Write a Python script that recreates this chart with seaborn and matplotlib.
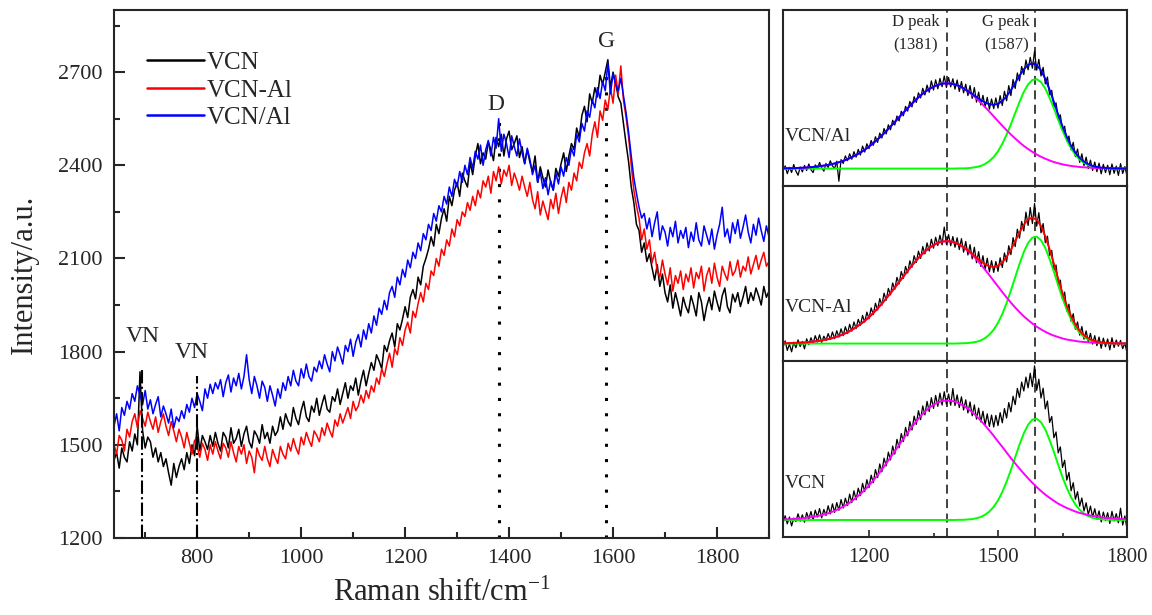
import numpy as np
import matplotlib
matplotlib.use('Agg')
import matplotlib.pyplot as plt
import seaborn as sns
from matplotlib.ticker import MultipleLocator, NullLocator

# ---------------- main panel: raw Raman spectra, 640-1900 cm-1, every 5 cm-1
vcn = [
    1450,1475,1425,1490,1460,1445,1510,1480,1535,1500,1735,1545,1490,1525,1510,1460,1490,1445,1475,1430,
    1455,1410,1370,1440,1395,1430,1455,1420,1475,1440,1500,1465,1560,1480,1530,1510,1485,1530,1495,1540,
    1505,1480,1540,1525,1490,1555,1505,1520,1550,1495,1535,1560,1510,1490,1545,1530,1505,1565,1520,1540,
    1505,1560,1530,1545,1590,1550,1600,1575,1560,1620,1585,1565,1610,1640,1590,1575,1625,1605,1650,1595,
    1630,1660,1615,1605,1655,1640,1680,1630,1665,1700,1650,1690,1675,1715,1660,1705,1740,1690,1730,1765,
    1740,1790,1770,1745,1820,1800,1835,1860,1815,1890,1870,1905,1945,1910,1975,2000,1970,2040,2015,2075,
    2100,2130,2170,2140,2210,2180,2230,2260,2220,2300,2270,2320,2345,2300,2375,2350,2330,2410,2370,2430,
    2470,2405,2440,2420,2475,2450,2415,2490,2460,2500,2430,2485,2510,2450,2470,2495,2425,2460,2405,2450,
    2410,2380,2430,2345,2395,2360,2330,2385,2345,2320,2390,2365,2405,2440,2380,2430,2470,2450,2520,2490,
    2560,2590,2540,2630,2600,2650,2620,2690,2660,2700,2740,2650,2700,2665,2620,2600,2535,2470,2410,2330,
    2280,2210,2190,2120,2150,2090,2115,2070,2030,2080,2010,2050,1990,1960,2015,1940,1990,1955,1915,1975,
    1945,1925,1980,1950,1915,1990,1960,1900,1945,1975,1935,1995,1960,1930,1980,2005,1945,1925,1985,1960,
    1990,1945,1975,2010,1955,1990,1965,2005,1980,1950,2010,1975,1995,
]
vcn_dash_al = [
    1500,1470,1530,1515,1480,1550,1525,1575,1600,1555,1610,1585,1560,1605,1575,1550,1590,1540,1575,1600,
    1560,1530,1575,1545,1510,1550,1525,1490,1540,1505,1470,1515,1495,1460,1505,1485,1450,1500,1470,1510,
    1480,1455,1505,1490,1460,1510,1475,1445,1495,1470,1500,1440,1480,1460,1410,1490,1465,1450,1495,1455,
    1430,1485,1460,1440,1495,1470,1455,1505,1480,1520,1490,1470,1525,1500,1540,1515,1495,1545,1530,1510,
    1555,1530,1570,1545,1525,1580,1560,1600,1570,1595,1620,1585,1640,1610,1625,1660,1635,1675,1650,1690,
    1670,1715,1695,1745,1720,1760,1795,1750,1810,1790,1845,1820,1870,1895,1860,1930,1910,1955,1990,1960,
    2020,2000,2060,2045,2100,2075,2130,2110,2160,2140,2195,2170,2225,2205,2250,2235,2280,2255,2300,2270,
    2320,2295,2350,2330,2365,2310,2380,2350,2395,2340,2385,2365,2400,2335,2375,2350,2320,2365,2330,2300,
    2345,2290,2260,2315,2240,2285,2255,2225,2290,2260,2310,2245,2295,2330,2280,2345,2320,2375,2350,2410,
    2390,2440,2470,2430,2500,2540,2490,2575,2545,2610,2580,2650,2600,2690,2630,2720,2610,2555,2490,2400,
    2320,2270,2230,2160,2195,2130,2160,2085,2120,2060,2040,2095,2050,2015,2070,1995,2045,2020,2060,2000,
    2050,2025,2070,2005,2055,2035,2075,1995,2045,2070,2020,2085,2040,2010,2075,2050,2030,2090,2045,2060,
    2095,2040,2075,2060,2105,2050,2080,2110,2065,2095,2120,2075,2090,
]
vcn_slash_al = [
    1560,1600,1545,1620,1595,1640,1615,1665,1640,1690,1660,1630,1675,1615,1645,1600,1630,1655,1590,1625,
    1600,1570,1615,1555,1590,1575,1610,1585,1630,1605,1650,1620,1665,1640,1610,1680,1650,1695,1665,1700,
    1680,1710,1655,1700,1725,1670,1715,1690,1730,1680,1720,1790,1710,1665,1720,1690,1650,1705,1685,1640,
    1690,1660,1625,1680,1650,1700,1675,1720,1690,1740,1705,1690,1745,1715,1760,1720,1705,1750,1735,1770,
    1745,1790,1760,1735,1800,1770,1815,1790,1760,1820,1800,1840,1785,1830,1855,1815,1870,1840,1890,1860,
    1915,1885,1940,1920,1965,1935,1990,2010,1975,2040,2015,2065,2040,2095,2070,2120,2100,2150,2125,2180,
    2160,2210,2190,2245,2220,2270,2250,2300,2275,2330,2300,2355,2330,2380,2345,2400,2370,2425,2390,2445,
    2420,2465,2400,2450,2480,2430,2490,2455,2550,2445,2500,2470,2425,2495,2460,2430,2485,2440,2405,2455,
    2420,2370,2400,2345,2380,2325,2360,2305,2350,2320,2375,2340,2395,2365,2425,2400,2455,2430,2500,2475,
    2535,2510,2575,2555,2610,2585,2650,2615,2670,2640,2730,2630,2695,2660,2640,2680,2625,2570,2505,2430,
    2360,2310,2265,2230,2245,2195,2230,2170,2215,2250,2160,2205,2185,2140,2200,2170,2220,2150,2190,2165,
    2200,2135,2185,2155,2215,2160,2140,2205,2175,2145,2195,2130,2175,2210,2265,2170,2195,2150,2215,2180,
    2225,2165,2200,2240,2185,2150,2210,2175,2230,2190,2155,2205,2170,
]
main_labels = ['VCN', 'VCN-Al', 'VCN/Al']
main_colors = ['#000000', '#ff0000', '#0000ff']

vn_pos = [693, 800]
vn_top = [1740, 1720]
peak_pos = [1381, 1587]
peak_top = [2550, 2720]

# ---------------- right panels: baseline-corrected spectra (1000-1800, every 5) and fitted peaks (every 10)
data_slash = [
    8.5,11.2,6.8,10.4,7.5,12.0,8.3,5.9,10.6,7.8,11.5,8.6,12.3,9.1,7.4,11.8,9.6,13.2,10.1,8.2,
    12.6,10.3,14.1,11.2,9.8,13.9,2.5,14.8,12.6,16.9,14.2,18.1,15.0,19.3,16.2,20.6,17.4,22.5,19.1,23.8,
    21.0,25.7,22.9,27.8,24.6,29.9,27.1,32.5,29.4,34.6,31.8,37.2,34.5,39.6,36.8,42.3,39.7,45.1,42.4,47.9,
    44.8,50.6,47.3,52.8,49.9,55.4,51.6,57.2,53.1,59.6,54.4,60.2,55.1,61.0,56.3,62.4,55.8,61.5,56.2,60.8,
    54.9,60.1,53.6,59.2,52.8,57.7,51.2,56.9,49.6,55.8,47.5,53.2,45.9,51.4,44.6,50.2,43.5,49.3,43.8,49.9,
    44.1,51.2,45.6,53.7,48.3,56.9,51.2,60.4,55.3,64.1,59.6,67.8,63.2,71.5,65.9,73.0,66.8,76.5,65.7,71.9,
    62.4,67.3,57.9,61.8,51.6,54.2,44.9,47.1,38.2,40.3,31.5,33.8,25.3,28.2,20.4,24.6,16.5,20.8,13.2,18.1,
    11.3,16.2,9.7,14.5,8.6,13.4,7.9,12.8,6.7,12.1,7.4,11.6,6.2,12.3,7.0,11.1,5.8,12.5,6.9,10.8,
    5.5,
]
data_dash = [
    7.9,11.6,6.2,9.8,5.4,10.9,7.7,12.2,8.4,11.3,7.1,12.8,9.5,13.4,10.2,14.6,11.0,15.1,10.8,14.3,
    11.9,15.8,12.4,16.7,12.9,17.4,13.8,18.5,14.6,19.7,15.8,21.1,17.2,22.4,18.6,23.9,20.5,26.1,22.3,28.0,
    24.2,30.4,26.6,33.1,29.2,35.7,31.9,38.8,34.7,41.5,37.8,44.6,40.9,47.8,44.0,51.1,47.2,54.0,50.3,57.2,
    53.5,60.1,56.2,62.7,58.6,65.3,61.1,67.4,62.8,69.5,64.4,70.6,65.9,71.8,66.3,76.4,66.7,72.1,65.8,71.0,
    64.9,70.3,63.6,69.8,62.1,68.2,60.5,66.4,58.3,64.9,56.1,62.4,54.0,60.1,52.2,58.7,50.9,57.3,50.6,56.8,
    51.2,58.9,53.4,61.7,56.6,65.8,60.7,70.4,65.3,75.2,70.1,79.6,74.2,84.9,77.3,87.5,78.4,89.8,76.9,84.6,
    73.1,78.4,67.5,71.2,60.3,63.1,52.0,54.8,43.6,46.2,35.3,39.4,28.6,32.5,22.8,27.1,18.3,22.4,14.9,19.8,
    12.6,17.3,11.1,15.9,9.8,14.6,8.9,13.8,7.4,13.2,8.3,12.7,6.5,13.4,7.8,12.1,8.6,11.9,7.2,10.4,
    4.9,
]
data_vcn = [
    8.2,12.1,7.5,11.4,6.3,10.8,8.9,13.2,9.1,12.6,8.4,13.9,10.2,14.5,9.6,15.3,11.4,16.2,10.9,15.7,
    12.3,17.8,13.1,18.9,14.0,19.6,15.2,21.3,16.5,22.1,17.9,24.4,19.6,26.3,21.2,27.8,23.6,30.5,25.9,32.6,
    28.1,35.2,30.9,38.4,33.8,41.6,37.1,44.9,40.5,48.3,43.9,51.8,47.2,55.6,50.8,58.9,54.3,62.4,57.6,65.7,
    60.9,68.8,64.1,71.9,66.8,74.6,69.5,77.2,71.4,79.3,73.2,80.6,74.4,81.9,75.1,82.7,75.6,81.4,75.0,84.5,
    74.8,80.9,73.7,79.8,72.3,78.1,70.6,76.9,69.0,75.2,67.1,73.4,65.5,71.6,63.8,70.1,62.9,69.4,62.6,69.2,
    63.4,70.8,65.0,73.1,67.7,76.5,71.2,80.1,75.3,84.6,79.4,88.2,83.1,91.0,84.9,93.2,85.6,97.4,83.5,89.8,
    79.1,84.7,72.9,77.4,65.2,68.6,56.5,59.8,47.9,51.3,39.6,43.7,32.4,36.8,26.3,30.9,21.5,25.8,17.6,22.2,
    14.8,19.5,12.7,17.6,11.3,16.1,10.2,14.9,8.6,14.2,9.4,13.8,7.7,14.6,9.2,13.3,8.1,16.4,6.8,12.0,
    4.6,
]

d_slash = [
    0.1,0.2,0.2,0.3,0.4,0.5,0.7,0.9,1.2,1.5,1.9,2.3,2.9,3.6,4.4,5.3,6.5,7.7,9.1,10.7,
    12.5,14.5,16.6,18.9,21.3,23.9,26.5,29.2,31.8,34.4,37.0,39.4,41.6,43.6,45.3,46.6,47.6,48.3,48.5,48.4,
    47.8,46.9,45.5,43.9,42.0,39.8,37.5,35.0,32.4,29.7,27.0,24.4,21.8,19.4,17.1,14.9,12.9,11.1,9.5,8.0,
    6.7,5.6,4.6,3.7,3.0,2.4,1.9,1.5,1.2,0.9,0.7,0.6,0.4,0.3,0.2,0.2,0.1,0.1,0.1,0.0,
    0.0,
]
g_slash = [
    0,0,0,0,0,0,0,0,0,0,0,0,0,0,0,0,0,0,0,0,
    0,0,0,0,0,0,0,0,0,0,0,0,0,0,0,0,0,0,0,0,
    0,0.1,0.1,0.2,0.5,0.9,1.5,2.6,4.3,6.6,9.8,14.1,19.3,25.2,31.6,37.9,43.6,47.9,50.4,50.9,
    49.2,45.5,40.2,34.2,27.7,21.6,16.1,11.4,7.8,5.1,3.2,1.9,1.1,0.6,0.3,0.2,0.1,0.0,0.0,0.0,
    0.0,
]
d_dash = [
    0.2,0.2,0.3,0.4,0.5,0.6,0.8,1.1,1.4,1.8,2.2,2.8,3.5,4.3,5.3,6.4,7.8,9.3,11.0,12.9,
    15.0,17.4,20.0,22.7,25.7,28.7,31.8,35.0,38.2,41.4,44.5,47.3,50.0,52.4,54.4,56.0,57.3,58.0,58.3,58.1,
    57.4,56.3,54.7,52.8,50.5,47.9,45.1,42.0,38.9,35.7,32.5,29.3,26.2,23.3,20.5,17.9,15.5,13.4,11.4,9.6,
    8.1,6.7,5.5,4.5,3.7,2.9,2.3,1.9,1.5,1.1,0.9,0.7,0.5,0.4,0.3,0.2,0.2,0.1,0.1,0.1,
    0.0,
]
g_dash = [
    0,0,0,0,0,0,0,0,0,0,0,0,0,0,0,0,0,0,0,0,
    0,0,0,0,0,0,0,0,0,0,0,0,0,0,0,0,0,0,0,0,
    0,0.1,0.2,0.3,0.6,1.0,1.8,3.1,5.1,7.9,11.8,16.8,23.1,30.1,37.8,45.3,52.1,57.3,60.3,60.9,
    58.8,54.4,48.1,40.9,33.2,25.8,19.2,13.7,9.3,6.1,3.8,2.3,1.3,0.7,0.4,0.2,0.1,0.0,0.0,0.0,
    0.0,
]
d_vcn = [
    0.3,0.4,0.5,0.7,0.8,1.1,1.4,1.8,2.2,2.8,3.4,4.2,5.2,6.3,7.6,9.0,10.7,12.7,14.8,17.1,
    19.7,22.5,25.5,28.7,32.1,35.6,39.1,42.7,46.2,49.7,53.0,56.2,59.1,61.6,63.8,65.6,66.8,67.7,68.0,67.9,
    67.3,66.3,65.0,63.3,61.3,59.1,56.5,53.8,50.9,47.9,44.7,41.6,38.4,35.2,32.2,29.2,26.4,23.7,21.1,18.7,
    16.5,14.4,12.6,10.9,9.3,8.0,6.8,5.8,4.8,4.0,3.4,2.8,2.3,1.9,1.5,1.2,1.0,0.8,0.6,0.5,
    0.4,
]
g_vcn = [
    0,0,0,0,0,0,0,0,0,0,0,0,0,0,0,0,0,0,0,0,
    0,0,0,0,0,0,0,0,0,0,0,0,0,0,0,0,0,0,0,0,
    0,0.1,0.1,0.3,0.5,1.0,1.7,3.0,4.8,7.5,11.1,15.9,21.8,28.5,35.7,42.9,49.3,54.2,57.1,57.6,
    55.6,51.5,45.5,38.7,31.4,24.4,18.2,12.9,8.8,5.8,3.6,2.2,1.2,0.7,0.4,0.2,0.1,0.0,0.0,0.0,
    0.0,
]
panel_names = ['VCN/Al', 'VCN-Al', 'VCN']
panel_base = [9.7, 10.1, 9.7]
panel_fit_colors = ['#0000ff', '#ff0000', None]
peak_names = ['D peak', 'G peak']
peak_text = ['(1381)', '(1587)']

# ---------------- style
sns.set_style('ticks')
plt.rcParams['font.family'] = ['Liberation Serif', 'DejaVu Serif']
plt.rcParams['mathtext.fontset'] = 'custom'
plt.rcParams['mathtext.rm'] = 'Liberation Serif'
plt.rcParams['mathtext.default'] = 'regular'
plt.rcParams['axes.linewidth'] = 1.5

fig = plt.figure(figsize=(11.52, 6.15), dpi=100)
ax = fig.add_axes([114/1152, 77/615, 655/1152, 528/615])

for ys, lab, col in zip([vcn, vcn_dash_al, vcn_slash_al], main_labels, main_colors):
    shift = 640 + 5*np.arange(len(ys))
    sns.lineplot(x=shift, y=ys, ax=ax, color=col, lw=1.1, label=lab,
                 estimator=None, sort=False, zorder=2)

ax.vlines(peak_pos, 1200, peak_top, colors='k', linestyles=(0, (1, 4)), lw=2.2, zorder=1)
ax.vlines(vn_pos, 1200, vn_top, colors='k', linestyles='-.', lw=1.5, zorder=3)
ax.text(1375, 2597, 'D', ha='center', va='center', fontsize=17)
ax.text(1587, 2797, 'G', ha='center', va='center', fontsize=17)
ax.text(696, 1850, 'VN', ha='center', va='center', fontsize=17)
ax.text(790, 1797, 'VN', ha='center', va='center', fontsize=17)

ax.set_xlim(640, 1900)
ax.set_ylim(1200, 2900)
ax.xaxis.set_major_locator(MultipleLocator(200))
ax.xaxis.set_minor_locator(MultipleLocator(100))
ax.yaxis.set_major_locator(MultipleLocator(300))
ax.yaxis.set_minor_locator(MultipleLocator(150))
ax.tick_params(which='both', direction='in', width=1.5, labelsize=16, top=False, right=False)
ax.tick_params(which='major', length=8, pad=8)
ax.tick_params(which='minor', length=4)
ax.set_yticks([1200, 1500, 1800, 2100, 2400, 2700])
ax.set_xlabel('Raman shift/cm$^{-1}$', fontsize=22, labelpad=8)
ax.set_ylabel('Intensity/a.u.', fontsize=22, labelpad=14)
leg = ax.legend(loc='upper left', bbox_to_anchor=(0.035, 0.94), frameon=False, fontsize=18,
                handlelength=2.3, labelspacing=0.2, handletextpad=0.1, borderaxespad=0)
for h in leg.get_lines():
    h.set_linewidth(1.8)

# ---------------- right stacked panels
bottoms = [0.6982, 0.4125, 0.1268]
datas = [data_slash, data_dash, data_vcn]
ds = [d_slash, d_dash, d_vcn]
gs = [g_slash, g_dash, g_vcn]
for k in range(3):
    axr = fig.add_axes([783/1152, bottoms[k], 344/1152, 0.2857])
    raw_x = 1000 + 5*np.arange(len(datas[k]))
    fit_x = 1000 + 10*np.arange(len(ds[k]))
    base = panel_base[k]
    d_curve = base + np.array(ds[k])
    g_curve = base + np.array(gs[k])
    sns.lineplot(x=raw_x, y=datas[k], ax=axr, color='k', lw=0.9, estimator=None, sort=False)
    sns.lineplot(x=fit_x, y=g_curve, ax=axr, color='#00ff00', lw=1.4, estimator=None, sort=False)
    sns.lineplot(x=fit_x, y=d_curve, ax=axr, color='#ff00ff', lw=1.4, estimator=None, sort=False)
    if panel_fit_colors[k] is not None:
        total = base + np.array(ds[k]) + np.array(gs[k])
        sns.lineplot(x=fit_x, y=total, ax=axr, color=panel_fit_colors[k], lw=1.4,
                     estimator=None, sort=False)
    axr.vlines(peak_pos, 0, 100, colors='#333333', linestyles=(0, (5, 3)), lw=1.3, zorder=1)
    axr.text(1005, 28 if k == 0 else 30.7, panel_names[k], ha='left', va='center', fontsize=14)
    axr.set_xlim(1000, 1800)
    axr.set_ylim(0, 100)
    axr.yaxis.set_major_locator(NullLocator())
    axr.set_ylabel('')
    if k == 2:
        axr.set_xticks([1200, 1500, 1800])
        axr.set_xticks([1350, 1650], minor=True)
        axr.tick_params(which='both', direction='in', width=1.2, labelsize=15, top=False)
        axr.tick_params(which='major', length=5, pad=8)
        axr.tick_params(which='minor', length=3)
    else:
        axr.xaxis.set_major_locator(NullLocator())
    if k == 0:
        for px, nm, tx in zip([1308, 1519], peak_names, peak_text):
            axr.text(px, 93, nm, ha='center', va='center', fontsize=12)
            axr.text(px, 80, tx, ha='center', va='center', fontsize=12)

fig.savefig('out.png', dpi=100)
